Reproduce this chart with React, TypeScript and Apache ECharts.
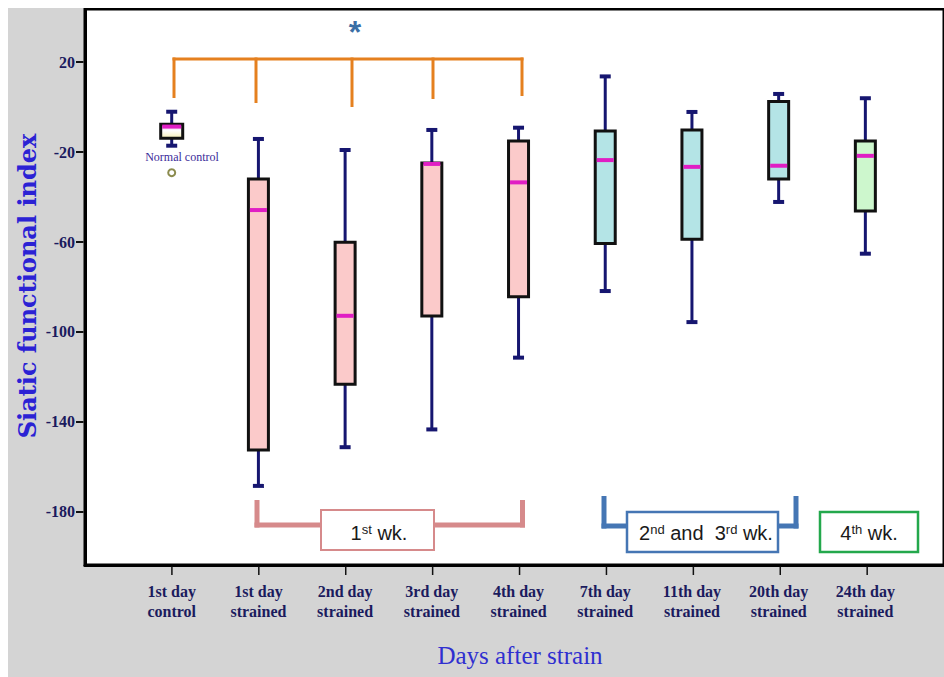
import React, { useEffect, useRef } from 'react';
import * as echarts from 'echarts';

// ---- data ----
const categories = [
  '1st day\ncontrol',
  '1st day\nstrained',
  '2nd day\nstrained',
  '3rd day\nstrained',
  '4th day\nstrained',
  '7th day\nstrained',
  '11th day\nstrained',
  '20th day\nstrained',
  '24th day\nstrained',
];
const whiskerHigh = [-2.1, -14.2, -19.1, -10.2, -9.2, 13.6, -2.2, 5.8, 3.9];
const upperQuartile = [-7.7, -32.0, -60.1, -24.9, -15.1, -10.7, -10.2, 2.5, -15.1];
const medians = [-8.7, -45.8, -92.8, -25.3, -33.5, -23.6, -26.6, -26.1, -21.7];
const lowerQuartile = [-13.9, -152.4, -123.2, -92.9, -84.3, -60.7, -58.8, -32.0, -46.2];
const whiskerLow = [-17.2, -168.4, -151.2, -143.3, -111.4, -81.8, -95.6, -42.2, -65.2];
// 0 = normal control, 1 = 1st week, 2 = 2nd and 3rd week, 3 = 4th week
const boxGroup = [0, 1, 1, 1, 1, 2, 2, 2, 3];
const outliers = [[0, -29.2]];
const yTickValues = [20, -20, -60, -100, -140, -180];
const xTickValues = categories.map((_, i) => i);

const groupFills = ['', '#fbcaca', '#b4e4e6', '#cdf7cd'];

const Y_MIN = -203.56;
const Y_MAX = 43.56;
const X_MIN = -1;
const X_MAX = 8.907;
const GRID = { left: 77, top: 1, width: 861, height: 556 };

export default function App() {
  const ref = useRef<HTMLDivElement>(null);

  useEffect(() => {
    if (!ref.current) return;
    const chart = echarts.init(ref.current, undefined, { renderer: 'svg' });

    const boxData = categories.map((_, i) => [
      i,
      whiskerLow[i],
      lowerQuartile[i],
      medians[i],
      upperQuartile[i],
      whiskerHigh[i],
      boxGroup[i],
    ]);

    const whiskerColor = '#161670';

    const renderBox = (params: any, api: any) => {
      const i = api.value(0);
      const wl = api.value(1);
      const q1 = api.value(2);
      const med = api.value(3);
      const q3 = api.value(4);
      const wh = api.value(5);
      const g = api.value(6);
      const cx = api.coord([i, 0])[0];
      const Y = (v: number) => api.coord([i, v])[1];
      const bw = g === 0 ? 22 : 20;
      const cap = 11;
      const fill =
        g === 0
          ? new echarts.graphic.LinearGradient(0, 0, 0, 1, [
              { offset: 0, color: '#e6a2de' },
              { offset: 0.45, color: '#ffffff' },
              { offset: 1, color: '#f7f0b4' },
            ])
          : groupFills[g];
      return {
        type: 'group',
        children: [
          { type: 'line', shape: { x1: cx, y1: Y(wh), x2: cx, y2: Y(q3) }, style: { stroke: whiskerColor, lineWidth: 3 } },
          { type: 'line', shape: { x1: cx, y1: Y(q1), x2: cx, y2: Y(wl) }, style: { stroke: whiskerColor, lineWidth: 3 } },
          { type: 'line', shape: { x1: cx - cap / 2, y1: Y(wh), x2: cx + cap / 2, y2: Y(wh) }, style: { stroke: whiskerColor, lineWidth: 4 } },
          { type: 'line', shape: { x1: cx - cap / 2, y1: Y(wl), x2: cx + cap / 2, y2: Y(wl) }, style: { stroke: whiskerColor, lineWidth: 4 } },
          {
            type: 'rect',
            shape: { x: cx - bw / 2, y: Y(q3), width: bw, height: Y(q1) - Y(q3) },
            style: { fill, stroke: '#111111', lineWidth: 3 },
          },
          {
            type: 'line',
            shape: { x1: cx - bw / 2 + 1.5, y1: Y(med), x2: cx + bw / 2 - 1.5, y2: Y(med) },
            style: { stroke: '#e01ec4', lineWidth: 4 },
          },
        ],
      };
    };

    const orange = '#e5801f';
    const pink = '#d68a8b';
    const blue = '#4576b4';
    const green = '#23a84c';
    const labelFont = '"Liberation Sans", Arial, sans-serif';

    const ln = (x1: number, y1: number, x2: number, y2: number, stroke: string, lineWidth: number, z = 100) => ({
      type: 'line',
      z,
      shape: { x1, y1, x2, y2 },
      style: { stroke, lineWidth },
    });

    // tick marks: same linear mapping as the grid's value axes
    const sx = (v: number) => GRID.left + ((v - X_MIN) / (X_MAX - X_MIN)) * GRID.width;
    const sy = (v: number) => GRID.top + ((Y_MAX - v) / (Y_MAX - Y_MIN)) * GRID.height;
    const gridBottom = GRID.top + GRID.height;
    const tickMarks: any[] = [
      ...xTickValues.map((v) => ln(sx(v), gridBottom + 1.5, sx(v), gridBottom + 10, '#111111', 1.5, 200)),
      ...yTickValues.map((v) => ln(GRID.left - 1.5, sy(v), GRID.left - 9, sy(v), '#111111', 2, 200)),
    ];

    const richLabel = (x: number, y: number, text: string) => ({
      type: 'text',
      z: 101,
      x,
      y,
      style: {
        text,
        fill: '#1a1a1a',
        font: `20px ${labelFont}`,
        align: 'center',
        verticalAlign: 'middle',
        textAlign: 'center',
        textVerticalAlign: 'middle',
        rich: {
          n: { fontSize: 20, fontFamily: labelFont, fill: '#1a1a1a' },
          s: { fontSize: 13, fontFamily: labelFont, fill: '#1a1a1a', verticalAlign: 'top' },
        },
      },
    });

    const graphics: any[] = [
      ...tickMarks,
      // significance bracket
      ln(164.5, 51, 515.5, 51, orange, 3),
      ln(166, 49.5, 166, 90, orange, 3),
      ln(248, 49.5, 248, 95, orange, 3),
      ln(344, 49.5, 344, 99, orange, 3),
      ln(425, 49.5, 425, 91, orange, 3),
      ln(514, 49.5, 514, 88, orange, 3),
      {
        type: 'text',
        z: 101,
        x: 347,
        y: 24,
        style: {
          text: '*',
          fill: '#3a6ea5',
          font: 'bold 32px "Liberation Sans", Arial, sans-serif',
          align: 'center',
          verticalAlign: 'middle',
          textAlign: 'center',
          textVerticalAlign: 'middle',
        },
      },
      // 1st week bracket
      ln(249, 492, 249, 519.5, pink, 5),
      ln(246.5, 517, 313, 517, pink, 5),
      ln(426, 517, 517, 517, pink, 5),
      ln(514.5, 492, 514.5, 519.5, pink, 5),
      {
        type: 'rect',
        z: 100,
        shape: { x: 313, y: 502, width: 113, height: 40 },
        style: { fill: '#ffffff', stroke: pink, lineWidth: 2 },
      },
      richLabel(371, 525, '{n|1}{s|st}{n| wk.}'),
      // 2nd and 3rd week bracket
      ln(596, 488, 596, 520.5, blue, 5),
      ln(593.5, 518, 619, 518, blue, 5),
      ln(770, 518, 790.5, 518, blue, 5),
      ln(788, 488, 788, 520.5, blue, 5),
      {
        type: 'rect',
        z: 100,
        shape: { x: 619, y: 504, width: 151, height: 40 },
        style: { fill: '#ffffff', stroke: blue, lineWidth: 2.5 },
      },
      richLabel(698, 525, '{n|2}{s|nd}{n| and  3}{s|rd}{n| wk.}'),
      // 4th week
      {
        type: 'rect',
        z: 100,
        shape: { x: 812, y: 504, width: 98, height: 40 },
        style: { fill: '#ffffff', stroke: green, lineWidth: 2.5 },
      },
      richLabel(861, 525, '{n|4}{s|th}{n| wk.}'),
      // control label
      {
        type: 'text',
        z: 101,
        x: 174,
        y: 149,
        style: {
          text: 'Normal control',
          fill: '#3c2c9a',
          font: '12px "Liberation Serif", "Times New Roman", serif',
          align: 'center',
          verticalAlign: 'middle',
          textAlign: 'center',
          textVerticalAlign: 'middle',
        },
      },
      // axis titles
      {
        type: 'text',
        z: 101,
        x: 19,
        y: 278,
        rotation: Math.PI / 2,
        style: {
          text: 'Siatic functional index',
          fill: '#2b22d4',
          font: 'bold 24px "DejaVu Serif", serif',
          align: 'center',
          verticalAlign: 'middle',
          textAlign: 'center',
          textVerticalAlign: 'middle',
        },
      },
      {
        type: 'text',
        z: 101,
        x: 512,
        y: 647,
        style: {
          text: 'Days after strain',
          fill: '#2f2fd0',
          font: '25px "Liberation Serif", "Times New Roman", serif',
          align: 'center',
          verticalAlign: 'middle',
          textAlign: 'center',
          textVerticalAlign: 'middle',
        },
      },
    ];

    chart.setOption({
      animation: false,
      backgroundColor: 'transparent',
      grid: {
        ...GRID,
        show: true,
        backgroundColor: '#ffffff',
        borderColor: '#000000',
        borderWidth: 3,
      },
      xAxis: {
        type: 'value',
        position: 'bottom',
        min: X_MIN,
        max: X_MAX,
        axisLine: { show: true, onZero: false, lineStyle: { color: '#000000', width: 3 } },
        splitLine: { show: false },
        axisTick: { show: false },
        axisLabel: {
          customValues: xTickValues,
          formatter: (v: number) => categories[Math.round(v)] ?? '',
          margin: 16,
          color: '#1b1b5e',
          fontFamily: '"Liberation Serif", "Times New Roman", serif',
          fontWeight: 'bold',
          fontSize: 16,
          lineHeight: 20,
        },
      },
      yAxis: {
        type: 'value',
        position: 'left',
        min: Y_MIN,
        max: Y_MAX,
        axisLine: { show: true, onZero: false, lineStyle: { color: '#000000', width: 3 } },
        splitLine: { show: false },
        axisTick: { show: false },
        axisLabel: {
          customValues: yTickValues,
          margin: 10,
          color: '#1b1b5e',
          fontFamily: '"Liberation Serif", "Times New Roman", serif',
          fontWeight: 'bold',
          fontSize: 16,
        },
      },
      series: [
        {
          type: 'custom',
          renderItem: renderBox,
          data: boxData,
          encode: { x: 0, y: [1, 2, 3, 4, 5] },
          clip: false,
          z: 5,
        },
        {
          type: 'scatter',
          data: outliers,
          symbol: 'emptyCircle',
          symbolSize: 7,
          itemStyle: { color: '#6e6e22', borderColor: '#6e6e22', borderWidth: 1.5 },
          z: 6,
        },
      ],
      graphic: graphics,
    });

    return () => {
      chart.dispose();
    };
  }, []);

  return (
    <div
      ref={ref}
      style={{ position: 'fixed', left: 8, top: 8, width: 936, height: 669, background: '#d4d4d4' }}
    />
  );
}
